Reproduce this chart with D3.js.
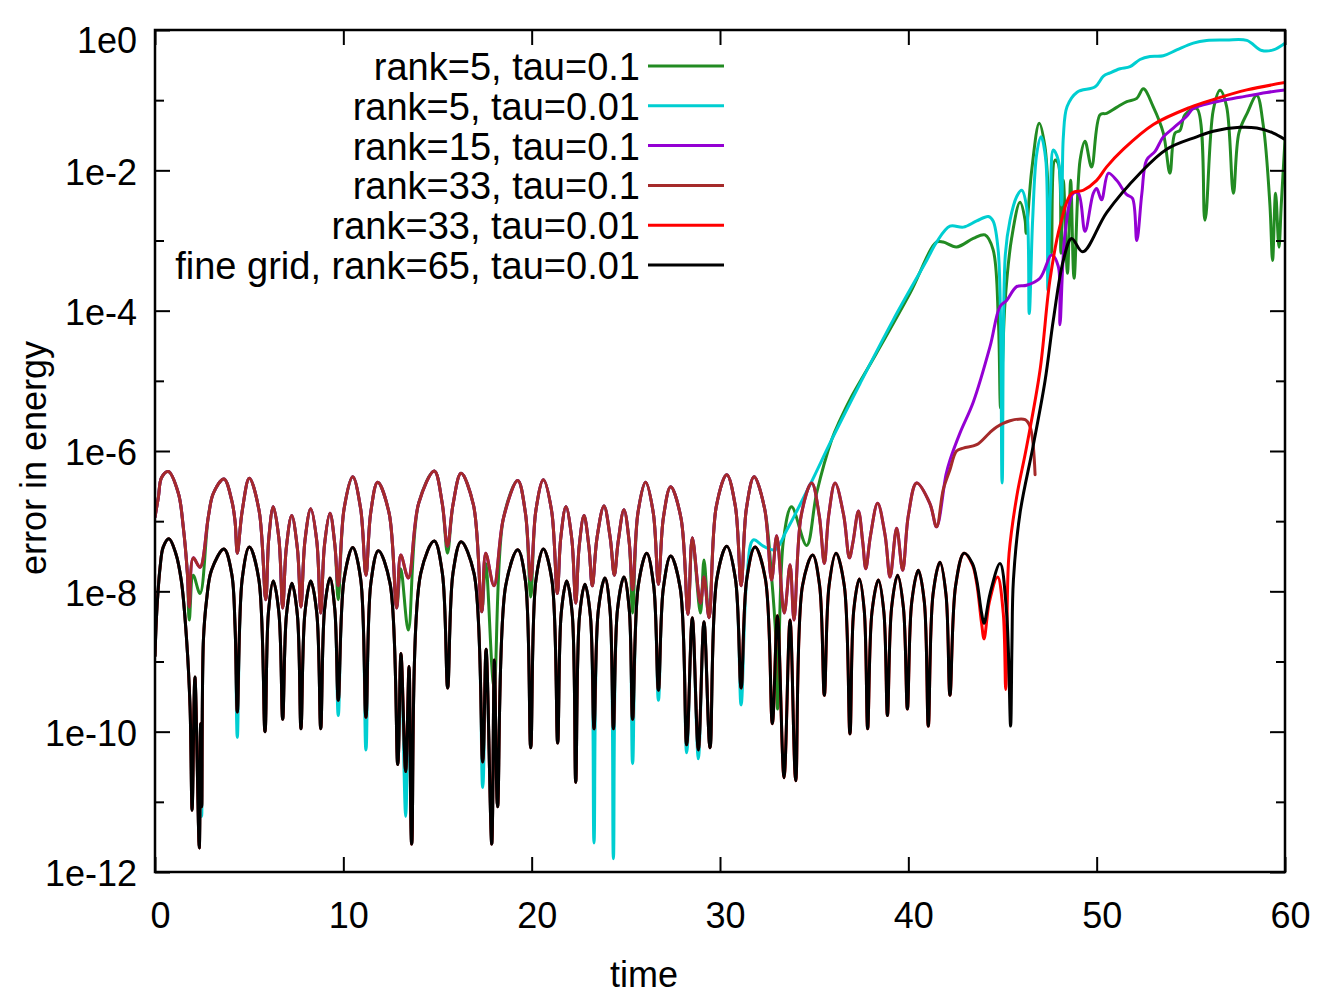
<!DOCTYPE html>
<html>
<head>
<meta charset="UTF-8">
<title>error in energy</title>
<script src="https://d3js.org/d3.v7.min.js"></script>
<style>
  body { margin: 0; background: #fff; }
  svg text { font-family: "Liberation Sans", Arial, Helvetica, sans-serif; fill: #000; }
  .series { fill: none; stroke-width: 3; stroke-linejoin: round; stroke-linecap: round; }
</style>
</head>
<body>
<svg id="chart" width="1334" height="1000"></svg>
<script>
// axis ticks
const xTicks = [0, 10, 20, 30, 40, 50, 60];
const yMajor = [1, 1e-2, 1e-4, 1e-6, 1e-8, 1e-10, 1e-12];
const yLabels = ["1e0", "1e-2", "1e-4", "1e-6", "1e-8", "1e-10", "1e-12"];
const yMinor = [1e-1, 1e-3, 1e-5, 1e-7, 1e-9, 1e-11];

// legend
const names = ["rank=5, tau=0.1", "rank=5, tau=0.01", "rank=15, tau=0.1",
               "rank=33, tau=0.1", "rank=33, tau=0.01", "fine grid, rank=65, tau=0.01"];
const colors = ["#228b22", "#00ced1", "#9400d3", "#a52a2a", "#ff0000", "#000000"];

// upper arches, shared by the tau=0.1 runs (rank 5, 15, 33) up to where they split
const upperArches = [
  [0, 1.15e-7], [0.18, 2.2e-7], [0.35, 4.2e-7], [0.71, 5.1e-7], [1.24, 2.5e-7], [1.5, 8.3e-8],
  [1.72, 1.8e-8], [1.82, 6e-9], [2.03, 3.0e-8], [2.39, 2.2e-8], [2.83, 1.15e-7], [3.1, 2.5e-7],
  [3.66, 4.0e-7], [4.07, 2.0e-7], [4.25, 1.0e-7], [4.37, 3.5e-8],
  [4.63, 1.4e-7], [5.01, 4.1e-7], [5.53, 1.4e-7], [5.88, 7.6e-9],
  [6.04, 5.6e-8], [6.28, 1.6e-7], [6.58, 5.6e-8], [6.78, 5.8e-9],
  [6.97, 4.1e-8], [7.26, 1.2e-7], [7.56, 4.1e-8], [7.75, 6e-9],
  [7.96, 5.2e-8], [8.27, 1.5e-7], [8.59, 5.2e-8], [8.8, 4.9e-9],
  [9.0, 4.6e-8], [9.29, 1.3e-7], [9.55, 4.6e-8], [9.73, 1.2e-8],
  [10.04, 1.5e-7], [10.5, 4.3e-7], [10.92, 1.5e-7], [11.2, 1.7e-8],
  [11.45, 1.3e-7], [11.82, 3.6e-7], [12.43, 1.3e-7], [12.83, 5.8e-9],
  [13.05, 3.3e-8], [13.45, 1.55e-8],
  [14.0, 1.8e-7], [14.83, 5.2e-7], [15.25, 1.8e-7], [15.53, 4.4e-8],
  [15.82, 1.7e-7], [16.25, 4.8e-7], [16.91, 1.7e-7], [17.35, 5.1e-9],
  [17.56, 3.5e-8], [18.0, 1.2e-8],
  [18.5, 1.1e-7], [19.26, 3.8e-7], [19.67, 1.3e-7], [19.95, 1.45e-8],
  [20.22, 1.4e-7], [20.62, 3.9e-7], [21.06, 1.4e-7], [21.36, 9.3e-9],
  [21.54, 5.6e-8], [21.82, 1.6e-7], [22.13, 5.6e-8], [22.34, 6.8e-9],
  [22.52, 4.3e-8], [22.78, 1.2e-7], [23.04, 4.3e-8], [23.22, 1.2e-8],
  [23.47, 5.8e-8], [23.84, 1.65e-7], [24.17, 5.8e-8], [24.39, 1.7e-8],
  [24.59, 5e-8], [24.9, 1.45e-7], [25.18, 5e-8], [25.36, 1.05e-8],
  [25.64, 1.3e-7], [26.05, 3.6e-7], [26.46, 1.3e-7], [26.73, 1.26e-8],
  [26.99, 1.1e-7], [27.38, 3.1e-7], [27.93, 1.1e-7], [28.3, 4.7e-9],
  [28.53, 5.8e-8], [28.96, 6.8e-9], [29.15, 1.6e-8], [29.42, 4.2e-9],
  [29.8, 1.6e-7], [30.36, 4.6e-7], [30.82, 1.6e-7], [31.12, 1.2e-8],
  [31.4, 1.5e-7], [31.81, 4.3e-7], [32.37, 1.5e-7], [32.74, 1.45e-8],
  [33.01, 6.2e-8], [33.41, 4.9e-9], [33.72, 2.4e-8], [33.93, 3.9e-9],
  [34.31, 1.2e-7], [34.87, 3.5e-7], [35.27, 1.2e-7], [35.54, 2.5e-8],
  [35.77, 1.2e-7], [36.11, 3.5e-7], [36.57, 1.2e-7], [36.87, 3.0e-8],
  [37.06, 5e-8], [37.35, 1.4e-7], [37.58, 5e-8], [37.74, 2.1e-8],
  [37.99, 6.2e-8], [38.37, 1.8e-7], [38.77, 6.2e-8], [39.03, 1.6e-8],
  [39.38, 7.9e-8], [39.7, 2.0e-8],
  [40.0, 1.2e-7], [40.44, 3.5e-7], [41.14, 1.8e-7], [41.5, 8.3e-8]
];

// lower arches, shared by the tau=0.01 runs up to where they split
const lowerArches = [
  [0, 1.2e-9], [0.09, 4.9e-9], [0.27, 2.2e-8], [0.44, 4.3e-8], [0.74, 5.6e-8], [1.1, 3.5e-8],
  [1.4, 1.4e-8], [1.68, 2.0e-9], [1.86, 2.3e-10], [1.97, 7.6e-12], [2.12, 6.0e-10], [2.35, 2.2e-12],
  [2.42, 1.3e-10], [2.48, 8.5e-12], [2.57, 2.0e-9], [2.74, 7.6e-9], [3.0, 2.0e-8], [3.66, 4.0e-8],
  [4.07, 1.8e-8], [4.25, 3.2e-9], [4.37, 1.9e-10],
  [4.63, 1.5e-8], [5.01, 4.3e-8], [5.51, 1.5e-8], [5.84, 1.0e-10],
  [6.02, 4.9e-9], [6.28, 1.4e-8], [6.58, 4.9e-9], [6.78, 1.5e-10],
  [6.98, 4.6e-9], [7.27, 1.3e-8], [7.56, 4.6e-9], [7.75, 1.1e-10],
  [7.96, 4.9e-9], [8.27, 1.4e-8], [8.59, 4.9e-9], [8.8, 1.1e-10],
  [9.0, 5.4e-9], [9.29, 1.55e-8], [9.55, 5.4e-9], [9.73, 2.8e-10],
  [10.04, 1.5e-8], [10.5, 4.2e-8], [10.92, 1.5e-8], [11.2, 1.6e-10],
  [11.46, 1.3e-8], [11.86, 3.8e-8], [12.48, 1.3e-8], [12.89, 3.4e-11],
  [13.06, 1.3e-9], [13.31, 2.7e-11], [13.49, 8.5e-10], [13.63, 2.5e-12],
  [14.11, 1.8e-8], [14.83, 5.2e-8], [15.26, 1.8e-8], [15.54, 4.2e-10],
  [15.82, 1.8e-8], [16.25, 5.1e-8], [16.94, 1.8e-8], [17.4, 3.7e-11],
  [17.58, 1.5e-9], [17.88, 2.5e-12], [18.02, 1.05e-9], [18.19, 8.5e-12],
  [18.62, 1.2e-8], [19.26, 3.9e-8], [19.67, 1.4e-8], [19.95, 5.9e-11],
  [20.22, 1.4e-8], [20.62, 4.0e-8], [21.08, 1.4e-8], [21.38, 6.9e-11],
  [21.57, 4.9e-9], [21.86, 1.4e-8], [22.15, 4.9e-9], [22.34, 1.9e-11],
  [22.54, 4.4e-9], [22.83, 1.26e-8], [23.12, 4.4e-9], [23.31, 1.1e-10],
  [23.54, 5.4e-9], [23.89, 1.55e-8], [24.16, 5.4e-9], [24.34, 1.1e-10],
  [24.56, 5.6e-9], [24.9, 1.6e-8], [25.18, 5.6e-9], [25.36, 1.5e-10],
  [25.66, 1.2e-8], [26.11, 3.5e-8], [26.48, 1.2e-8], [26.73, 3.9e-10],
  [26.99, 1.1e-8], [27.38, 3.2e-8], [27.89, 1.1e-8], [28.23, 6.5e-11],
  [28.53, 4.2e-9], [28.85, 5.5e-11], [29.15, 3.7e-9], [29.47, 5.9e-11],
  [29.83, 1.5e-8], [30.36, 4.4e-8], [30.82, 1.5e-8], [31.12, 4.2e-10],
  [31.42, 1.5e-8], [31.86, 4.3e-8], [32.41, 1.5e-8], [32.78, 1.3e-10],
  [33.05, 4.5e-9], [33.4, 2.2e-11], [33.72, 3.9e-9], [34.02, 2.0e-11],
  [34.38, 1.2e-8], [34.92, 3.3e-8], [35.29, 1.2e-8], [35.54, 3.3e-10],
  [35.79, 1.2e-8], [36.16, 3.5e-8], [36.6, 1.2e-8], [36.9, 9.3e-11],
  [37.1, 5.3e-9], [37.4, 1.5e-8], [37.66, 5.3e-9], [37.84, 1.1e-10],
  [38.07, 5.1e-9], [38.41, 1.45e-8], [38.7, 5.1e-9], [38.89, 1.7e-10],
  [39.11, 5.8e-9], [39.43, 1.7e-8], [39.74, 5.8e-9], [39.95, 2.1e-10],
  [40.18, 7e-9], [40.53, 2.0e-8], [40.85, 7e-9], [41.06, 1.2e-10],
  [41.31, 9e-9], [41.68, 2.6e-8], [42.0, 9e-9], [42.21, 3.3e-10],
  [42.51, 1.2e-8], [42.96, 3.5e-8]
];

// where each run leaves the shared arches
const splitAt = [31.81, 31.12, 41.5, 41.5, 42.96, 42.96];

// dips that go deeper than the shared arches
const greenDips = [[1.82, 3.9e-9], [2.03, 1.7e-8], [2.39, 9.3e-9], [9.73, 7.6e-9], [13.05, 2.1e-8],
  [13.45, 2.8e-9], [15.53, 3.5e-8], [17.56, 2.5e-8], [18.0, 4.4e-10], [19.95, 8.3e-9],
  [25.36, 4.9e-9], [28.96, 4.9e-9], [29.15, 2.8e-8]];
const cyanDips = [[2.48, 6.2e-12], [4.37, 8.3e-11], [9.73, 1.7e-10], [11.2, 5.5e-11], [13.31, 6.2e-12],
  [17.4, 1.6e-11], [23.31, 2.6e-12], [24.34, 1.55e-12], [25.36, 3.5e-11], [26.73, 2.8e-10],
  [28.23, 5.0e-11], [28.85, 4.1e-11], [31.12, 2.4e-10]];

// own part of each run after the split
const greenTail = [
  [32.37, 1.5e-7], [32.74, 1.6e-8], [32.97, 2.0e-9], [33.06, 2.1e-10], [33.37, 5.4e-8], [33.8, 1.6e-7],
  [34.6, 4.5e-8], [35.13, 2.5e-7], [35.93, 1.45e-6], [36.37, 2.75e-6], [36.9, 5.4e-6], [38.3, 2.45e-5],
  [40.1, 1.8e-4], [41.5, 9.5e-4], [41.85, 9.5e-4], [42.56, 8.1e-4], [43.45, 1.07e-3], [44.07, 1.2e-3],
  [44.5, 7.4e-4], [44.78, 7.4e-5], [44.9, 4.1e-6], [45.13, 1.26e-4], [45.49, 1.1e-3], [45.93, 3.5e-3],
  [46.2, 1.95e-3], [46.25, 1.26e-3], [46.55, 0.01], [46.95, 0.047], [47.25, 0.022], [47.5, 2.0e-3],
  [47.6, 6.6e-4], [47.79, 0.014], [47.96, 0.0126], [48.1, 6.6e-4], [48.23, 7.2e-3], [48.45, 3.4e-4],
  [48.62, 7.2e-3], [48.8, 2.9e-4], [49.12, 0.014], [49.38, 0.026], [49.73, 0.0112], [50.18, 0.062],
  [50.53, 0.065], [51.06, 0.079], [51.6, 0.095], [52.13, 0.106], [52.48, 0.145], [53.0, 0.081],
  [53.54, 0.034], [53.89, 9.1e-3], [54.16, 0.034], [54.42, 0.037], [54.69, 0.062], [55.31, 0.076],
  [55.75, 1.95e-3], [56.19, 0.072], [56.55, 0.138], [56.9, 0.081], [57.26, 4.7e-3], [57.55, 0.034],
  [58.0, 0.066], [58.5, 0.117], [58.85, 0.043], [59.2, 3.2e-3], [59.34, 5.2e-4], [59.5, 4.7e-3],
  [59.68, 8e-4], [59.8, 3.2e-3], [60, 0.027]
];
const cyanTail = [
  [31.42, 1.5e-8], [31.77, 5.4e-8], [32.3, 4.4e-8], [32.92, 3.9e-8], [33.54, 7.4e-8], [34.78, 3.3e-7],
  [35.93, 1.45e-6], [37.43, 9.1e-6], [39.2, 7.4e-5], [40.97, 5.2e-4], [41.5, 9.5e-4], [42.21, 1.6e-3],
  [42.92, 1.55e-3], [43.63, 1.9e-3], [44.25, 2.2e-3], [44.5, 1.9e-3], [44.78, 6.8e-4], [44.98, 3.5e-7],
  [45.15, 6.3e-4], [45.4, 1.95e-3], [45.75, 4.2e-3], [46.02, 5.2e-3], [46.28, 3.0e-3], [46.42, 9.1e-5],
  [46.6, 1.95e-3], [46.82, 0.0174], [47.05, 0.03], [47.3, 0.014], [47.41, 1.95e-4], [47.55, 5e-3],
  [47.7, 0.0195], [47.96, 0.014], [48.14, 3.2e-3], [48.23, 0.03], [48.43, 0.081], [48.96, 0.13],
  [49.92, 0.155], [50.36, 0.22], [50.71, 0.245], [51.24, 0.28], [51.77, 0.3], [52.3, 0.38],
  [52.83, 0.42], [53.54, 0.43], [54.25, 0.52], [55.13, 0.65], [55.84, 0.71], [56.9, 0.72],
  [57.97, 0.71], [58.77, 0.51], [59.38, 0.52], [60, 0.65]
];
const purpleTail = [
  [42.0, 4.6e-7], [42.21, 7.4e-7], [42.74, 1.8e-6], [43.45, 5e-6], [44.34, 3.1e-5], [44.87, 1.15e-4],
  [45.22, 1.4e-4], [45.75, 2.2e-4], [46.28, 2.3e-4], [46.99, 2.9e-4], [47.61, 6.2e-4], [47.96, 4.3e-4],
  [48.05, 6.3e-5], [48.32, 1.26e-3], [48.76, 4.7e-3], [49.03, 4.7e-3], [49.38, 1.35e-3], [49.82, 4.7e-3],
  [50.0, 5.5e-3], [50.26, 3.8e-3], [50.62, 9.1e-3], [51.06, 7.2e-3], [51.6, 4.5e-3], [51.9, 4e-3],
  [52.13, 1.0e-3], [52.4, 4.7e-3], [52.65, 0.014], [53.1, 0.0186], [53.54, 0.03], [54.07, 0.04],
  [54.78, 0.059], [55.13, 0.076], [56.19, 0.093], [57.61, 0.11], [59.03, 0.129], [60, 0.14]
];
const brownTail = [
  [41.85, 2.8e-7], [42.21, 5.4e-7], [42.56, 1.0e-6], [42.92, 1.1e-6], [43.63, 1.23e-6], [44.3, 1.8e-6],
  [44.69, 2.2e-6], [45.4, 2.7e-6], [46.2, 2.8e-6], [46.47, 2.2e-6], [46.73, 4.6e-7]
];
const redTail = [
  [43.4, 2.4e-8], [43.63, 1.3e-8], [43.89, 3.5e-9], [44.02, 2.1e-9], [44.3, 7e-9], [44.74, 1.6e-8],
  [45.04, 4.9e-9], [45.17, 4e-10], [45.28, 1.45e-8], [45.35, 3.5e-8], [45.75, 2.2e-7], [46.28, 1.15e-6],
  [46.99, 1.4e-5], [47.52, 2.75e-4], [48.05, 1.6e-3], [48.67, 4.7e-3], [49.29, 5.2e-3], [50.0, 7.2e-3],
  [50.53, 0.0112], [51.42, 0.02], [53.01, 0.045], [54.96, 0.079], [56.19, 0.102], [57.97, 0.14], [60, 0.178]
];
const blackTail = [
  [43.4, 2.5e-8], [43.63, 1.45e-8], [43.89, 4.9e-9], [44.02, 3.5e-9], [44.34, 9.3e-9], [44.87, 2.5e-8],
  [45.22, 4.9e-9], [45.43, 1.2e-10], [45.5, 1.6e-9], [45.58, 1.45e-8], [45.93, 1.3e-7], [46.62, 1.15e-6],
  [47.26, 1.0e-5], [47.7, 7.4e-5], [48.23, 5.2e-4], [48.67, 1.07e-3], [49.26, 6.9e-4], [50.53, 2.5e-3],
  [52.3, 9.1e-3], [53.72, 0.02], [55.31, 0.03], [56.19, 0.036], [57.61, 0.041], [58.5, 0.04],
  [59.38, 0.034], [60, 0.0275]
];

function build(base, cut, dips, tail) {
  const o = new Map(dips.map(d => [d[0], d[1]]));
  return base.filter(d => d[0] <= cut)
    .map(d => [d[0], o.has(d[0]) ? o.get(d[0]) : d[1]])
    .concat(tail);
}

const series = [
  build(upperArches, splitAt[0], greenDips, greenTail),
  build(lowerArches, splitAt[1], cyanDips, cyanTail),
  build(upperArches, splitAt[2], [], purpleTail),
  build(upperArches, splitAt[3], [], brownTail),
  build(lowerArches, splitAt[4], [], redTail),
  build(lowerArches, splitAt[5], [], blackTail)
];

const W = 1334, H = 1000;
const margin = { top: 30, right: 49, bottom: 128, left: 155 };
const x0 = margin.left, x1 = W - margin.right, y0 = margin.top, y1 = H - margin.bottom;

const svg = d3.select("#chart");

const x = d3.scaleLinear().domain([0, 60]).range([x0, x1]);
const y = d3.scaleLog().domain([1e-12, 1]).range([y1, y0]);

svg.append("clipPath").attr("id", "plot")
  .append("rect").attr("x", x0).attr("y", y0).attr("width", x1 - x0).attr("height", y1 - y0);

const line = d3.line()
  .x(d => x(d[0]))
  .y(d => y(d[1]))
  .curve(d3.curveCatmullRom.alpha(0.5));

svg.append("g").attr("clip-path", "url(#plot)")
  .selectAll("path")
  .data(series)
  .join("path")
  .attr("class", "series")
  .attr("stroke", (d, i) => colors[i])
  .attr("d", line);

// axes, ticks pointing inward like gnuplot
function styleAxis(g) {
  g.select(".domain").remove();
  g.selectAll(".tick line").attr("stroke", "#000").attr("stroke-width", 2);
}

svg.append("g").attr("transform", `translate(0,${y1})`)
  .call(d3.axisBottom(x).tickValues(xTicks).tickSize(-15).tickPadding(30).tickFormat(d3.format("d")))
  .call(styleAxis)
  .call(g => g.selectAll("text").attr("font-size", 36).attr("dx", 5));

svg.append("g").attr("transform", `translate(0,${y0})`)
  .call(d3.axisTop(x).tickValues(xTicks).tickSize(-15).tickFormat(""))
  .call(styleAxis);

svg.append("g").attr("transform", `translate(${x0},0)`)
  .call(d3.axisLeft(y).tickValues(yMajor).tickSize(-15).tickPadding(18)
    .tickFormat((d, i) => yLabels[i]))
  .call(styleAxis)
  .call(g => g.selectAll("text").attr("font-size", 36)
    .attr("dy", (d, i) => i === 0 ? "0.62em" : "0.38em"));

svg.append("g").attr("transform", `translate(${x0},0)`)
  .call(d3.axisLeft(y).tickValues(yMinor).tickSize(-9).tickFormat(""))
  .call(styleAxis);

svg.append("g").attr("transform", `translate(${x1},0)`)
  .call(d3.axisRight(y).tickValues(yMajor).tickSize(-15).tickFormat(""))
  .call(styleAxis);

svg.append("g").attr("transform", `translate(${x1},0)`)
  .call(d3.axisRight(y).tickValues(yMinor).tickSize(-9).tickFormat(""))
  .call(styleAxis);

svg.append("rect")
  .attr("x", x0).attr("y", y0).attr("width", x1 - x0).attr("height", y1 - y0)
  .attr("fill", "none").attr("stroke", "#000").attr("stroke-width", 2.5);

// axis titles
svg.append("text")
  .attr("x", 644).attr("y", 987)
  .attr("text-anchor", "middle").attr("font-size", 36)
  .text("time");

svg.append("text")
  .attr("transform", `translate(46,${(y0 + y1) / 2 + 7}) rotate(-90)`)
  .attr("text-anchor", "middle").attr("font-size", 36)
  .text("error in energy");

// legend
const legend = svg.append("g");
names.forEach((n, i) => {
  const ly = 66 + i * 39.8;
  legend.append("text")
    .attr("x", 640).attr("y", ly + 14)
    .attr("text-anchor", "end").attr("font-size", 38)
    .text(n);
  legend.append("line")
    .attr("x1", 648).attr("x2", 724).attr("y1", ly).attr("y2", ly)
    .attr("stroke", colors[i]).attr("stroke-width", 3);
});
</script>
</body>
</html>
